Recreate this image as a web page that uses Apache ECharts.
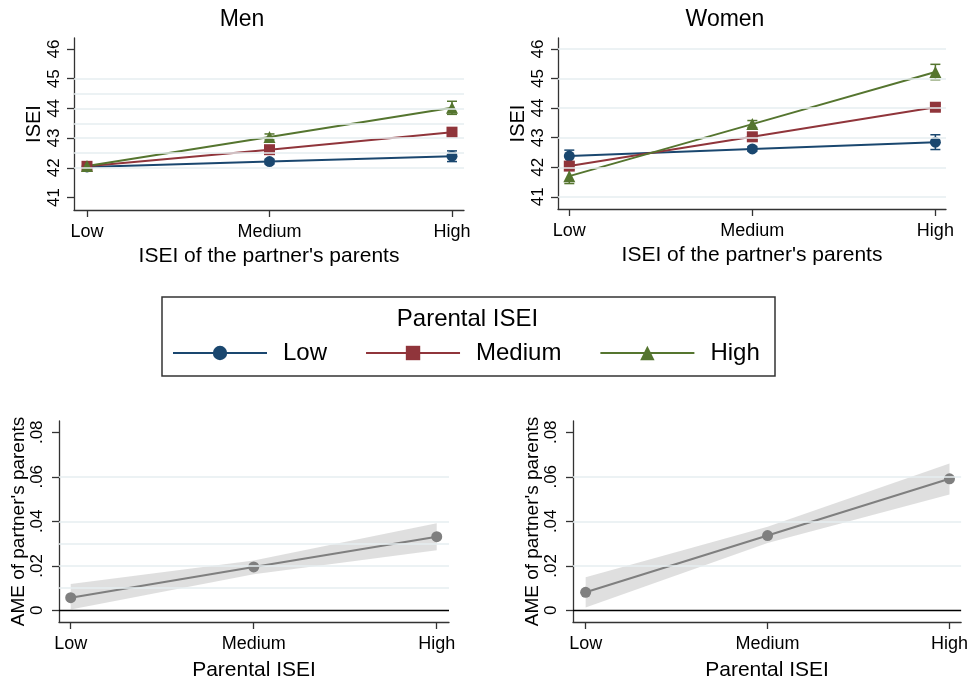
<!DOCTYPE html>
<html><head><meta charset="utf-8">
<script src="https://cdn.jsdelivr.net/npm/echarts@6/dist/echarts.min.js"></script>
<style>html,body{margin:0;padding:0;background:#fff}#c{width:971px;height:682px}</style>
</head><body><div id="c"></div>
<script>
// ---------- data ----------
const categories = ['Low', 'Medium', 'High'];
const seriesNames = ['Low', 'Medium', 'High'];
const panelTitles = ['Men', 'Women'];

const menLow = [42.03, 42.21, 42.39];
const menLowErr = [0.08, 0.08, 0.18];
const menMed = [42.05, 42.61, 43.20];
const menMedErr = [0.08, 0.08, 0.12];
const menHigh = [42.06, 43.04, 44.02];
const menHighErr = [0.10, 0.10, 0.22];

const womenLow = [42.38, 42.62, 42.85];
const womenLowErr = [0.20, 0.08, 0.25];
const womenMed = [42.04, 43.03, 44.03];
const womenMedErr = [0.10, 0.10, 0.10];
const womenHigh = [41.70, 43.46, 45.22];
const womenHighErr = [0.25, 0.12, 0.26];

const iseiTicks = [41, 42, 43, 44, 45, 46];
const menGridVals = [42, 42.5, 43, 43.5, 44, 44.5, 45];
const womenGridVals = [41, 42, 43, 44, 45, 46];

const ameTicks = [0, 0.02, 0.04, 0.06, 0.08];
const ameTickLabels = ['0', '.02', '.04', '.06', '.08'];
const ameLeftGridVals = [0.01, 0.02, 0.03, 0.04, 0.06];
const ameRightGridVals = [0.02, 0.04, 0.06];

const ameLeft = [0.0057, 0.0195, 0.0331];
const ameLeftLo = [0.0004, 0.0162, 0.0270];
const ameLeftHi = [0.0118, 0.0224, 0.0391];
const ameRight = [0.0081, 0.0336, 0.0591];
const ameRightLo = [0.0013, 0.0302, 0.0520];
const ameRightHi = [0.0149, 0.0376, 0.0660];

// ---------- styling ----------
const FONT = '"Liberation Sans", Arial, sans-serif';
const AX = '#333333';
const COLORS = ['#1a476f', '#90353b', '#55752f'];
const SYMBOLS = ['circle', 'rect', 'triangle'];
const SYMSIZE = [11, 11, 12];
const GRIDC = '#e6eef1';
const GRAY = '#7f7f7f';
const xIdx = [0, 1, 2];

function makeX(gi, min, max, name, nameGap) {
  return {
    type: 'value', gridIndex: gi, min: min, max: max,
    name: name, nameLocation: 'middle', nameGap: nameGap,
    nameTextStyle: {fontSize: 21, color: '#000', fontFamily: FONT},
    axisLine: {show: true, onZero: false, lineStyle: {color: AX, width: 1.3}},
    axisTick: {show: true, length: 7, customValues: xIdx, lineStyle: {color: AX, width: 1.3}},
    axisLabel: {customValues: xIdx, formatter: v => categories[Math.round(v)] || '',
      fontSize: 18, color: '#000', margin: 13, fontFamily: FONT},
    splitLine: {show: false}
  };
}
function makeY(gi, min, max, name, ticks, fmt, nameSize, margin, nameGap) {
  return {
    type: 'value', gridIndex: gi, min: min, max: max,
    name: name, nameLocation: 'middle', nameGap: nameGap,
    nameTextStyle: {fontSize: nameSize, color: '#000', fontFamily: FONT},
    axisLine: {show: true, onZero: false, lineStyle: {color: AX, width: 1.3}},
    axisTick: {show: true, length: 7, customValues: ticks, lineStyle: {color: AX, width: 1.3}},
    axisLabel: {customValues: ticks, rotate: 90, formatter: fmt, fontSize: 17,
      color: '#000', margin: margin, fontFamily: FONT},
    splitLine: {show: false}
  };
}

function gridSeries(gi, vals, withZero, dataVals) {
  const d = vals.map(v => ({yAxis: v}));
  if (withZero) d.push({yAxis: 0, lineStyle: {color: '#000', width: 1.3}});
  return {
    type: 'line', name: 'grid' + gi, xAxisIndex: gi, yAxisIndex: gi,
    data: dataVals.map((v, i) => [i, v]), symbol: 'none', silent: true, z: 0,
    lineStyle: {opacity: 0}, tooltip: {show: false},
    markLine: {silent: true, symbol: ['none', 'none'], label: {show: false},
      lineStyle: {color: GRIDC, width: 1.5, type: 'solid'}, data: d}
  };
}

function errorSeries(gi, k, vals, errs) {
  const color = COLORS[k];
  return {
    type: 'custom', name: 'err' + gi + '_' + k, xAxisIndex: gi, yAxisIndex: gi, z: 2,
    data: vals.map((v, i) => [i, v - errs[i], v + errs[i]]),
    encode: {x: 0, y: [1, 2]},
    renderItem: function (params, api) {
      const x = api.value(0);
      const p1 = api.coord([x, api.value(1)]);
      const p2 = api.coord([x, api.value(2)]);
      const w = 5;
      const st = {stroke: color, lineWidth: 1.5};
      return {type: 'group', children: [
        {type: 'line', shape: {x1: p1[0], y1: p1[1], x2: p2[0], y2: p2[1]}, style: st},
        {type: 'line', shape: {x1: p1[0] - w, y1: p1[1], x2: p1[0] + w, y2: p1[1]}, style: st},
        {type: 'line', shape: {x1: p2[0] - w, y1: p2[1], x2: p2[0] + w, y2: p2[1]}, style: st}
      ]};
    }
  };
}
function lineSeries(gi, k, vals) {
  return {
    type: 'line', name: seriesNames[k], xAxisIndex: gi, yAxisIndex: gi, z: 3,
    data: vals.map((v, i) => [i, v]),
    symbol: SYMBOLS[k], symbolSize: SYMSIZE[k], showSymbol: true,
    itemStyle: {color: COLORS[k]}, lineStyle: {color: COLORS[k], width: 2}
  };
}
function bandSeries(gi, lo, hi) {
  return {
    type: 'custom', name: 'band' + gi, xAxisIndex: gi, yAxisIndex: gi, z: 1,
    data: lo.map((v, i) => [i, v, hi[i]]),
    encode: {x: 0, y: [1, 2]},
    renderItem: function (params, api) {
      if (params.dataIndex !== 0) return null;
      const pts = [];
      for (let i = 0; i < hi.length; i++) pts.push(api.coord([i, hi[i]]));
      for (let i = lo.length - 1; i >= 0; i--) pts.push(api.coord([i, lo[i]]));
      return {type: 'polygon', shape: {points: pts}, style: {fill: 'rgba(185,185,185,0.45)'}};
    }
  };
}
function ameSeries(gi, vals) {
  return {
    type: 'line', name: 'ame' + gi, xAxisIndex: gi, yAxisIndex: gi, z: 3,
    data: vals.map((v, i) => [i, v]), symbol: 'circle', symbolSize: 11,
    itemStyle: {color: GRAY}, lineStyle: {color: GRAY, width: 2}
  };
}

const iseiFmt = v => String(Math.round(v));
const ameFmt = v => {
  const i = ameTicks.findIndex(t => Math.abs(t - v) < 1e-9);
  return i >= 0 ? ameTickLabels[i] : '';
};

const menSets = [[menLow, menLowErr], [menMed, menMedErr], [menHigh, menHighErr]];
const womenSets = [[womenLow, womenLowErr], [womenMed, womenMedErr], [womenHigh, womenHighErr]];

const series = [];
series.push(gridSeries(0, menGridVals, false, menLow));
series.push(gridSeries(1, womenGridVals, false, womenLow));
series.push(gridSeries(2, ameLeftGridVals, true, ameLeft));
series.push(gridSeries(3, ameRightGridVals, true, ameRight));
menSets.forEach((s, k) => { series.push(errorSeries(0, k, s[0], s[1])); });
womenSets.forEach((s, k) => { series.push(errorSeries(1, k, s[0], s[1])); });
menSets.forEach((s, k) => { series.push(lineSeries(0, k, s[0])); });
womenSets.forEach((s, k) => { series.push(lineSeries(1, k, s[0])); });
series.push(bandSeries(2, ameLeftLo, ameLeftHi));
series.push(bandSeries(3, ameRightLo, ameRightHi));
series.push(ameSeries(2, ameLeft));
series.push(ameSeries(3, ameRight));

const option = {
  animation: false,
  backgroundColor: '#ffffff',
  textStyle: {fontFamily: FONT},
  title: [
    {text: panelTitles[0], left: 242, top: 8, textAlign: 'center', padding: 0,
      textStyle: {fontSize: 23, fontWeight: 'normal', color: '#000', fontFamily: FONT}},
    {text: panelTitles[1], left: 725, top: 8, textAlign: 'center', padding: 0,
      textStyle: {fontSize: 23, fontWeight: 'normal', color: '#000', fontFamily: FONT}},
    {text: 'Parental ISEI', left: 467.5, top: 307, textAlign: 'center', padding: 0,
      textStyle: {fontSize: 24, fontWeight: 'normal', color: '#000', fontFamily: FONT}}
  ],
  legend: {
    data: seriesNames, left: 172, top: 341, padding: 0, orient: 'horizontal',
    itemWidth: 94, itemHeight: 18, itemGap: 38, selectedMode: false,
    textStyle: {fontSize: 24, color: '#000', fontFamily: FONT, padding: [0, 0, 0, 11]}
  },
  graphic: [{
    type: 'rect', shape: {x: 162, y: 297, width: 613, height: 79},
    style: {fill: 'none', stroke: '#333', lineWidth: 1.5}, silent: true
  }],
  grid: [
    {left: 74, top: 38, width: 390, height: 172},
    {left: 558, top: 38, width: 388, height: 171},
    {left: 59, top: 421, width: 390, height: 202},
    {left: 573, top: 421, width: 390, height: 202}
  ],
  xAxis: [
    makeX(0, -0.0712, 2.0658, "ISEI of the partner's parents", 36),
    makeX(1, -0.0617, 2.058, "ISEI of the partner's parents", 36),
    makeX(2, -0.064, 2.067, 'Parental ISEI', 38),
    makeX(3, -0.0695, 2.064, 'Parental ISEI', 38)
  ],
  yAxis: [
    makeY(0, 40.58, 46.37, 'ISEI', iseiTicks, iseiFmt, 20, 11, 30),
    makeY(1, 40.59, 46.37, 'ISEI', iseiTicks, iseiFmt, 20, 11, 30),
    makeY(2, -0.00523, 0.08505, "AME of partner's parents", ameTicks, ameFmt, 19, 13, 31),
    makeY(3, -0.00523, 0.08505, "AME of partner's parents", ameTicks, ameFmt, 19, 13, 31)
  ],
  series: series
};

const chart = echarts.init(document.getElementById('c'), null, {renderer: 'canvas'});
chart.setOption(option);
</script>
</body></html>
